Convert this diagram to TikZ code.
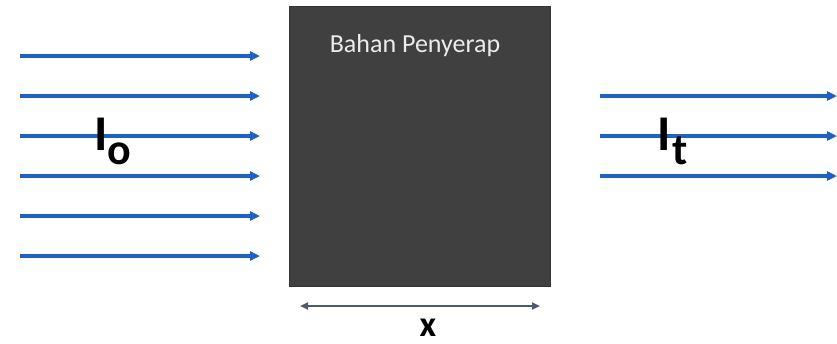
\documentclass[tikz,border=0pt]{standalone}
\usepackage{fontspec}
\setmainfont{Carlito}
\usetikzlibrary{arrows.meta}
\definecolor{beam}{HTML}{1F63C0}
\definecolor{slab}{HTML}{404040}
\definecolor{dim}{HTML}{4D5B6B}
\begin{document}
\begin{tikzpicture}[x=1pt,y=-1pt,
  ray/.style={beam,line width=3.2pt,-{Triangle[length=10pt,width=9pt]}},
  lbl/.style={inner sep=0pt,anchor=base west,font=\fontsize{50}{50}\selectfont\bfseries},
  sub/.style={inner sep=0pt,anchor=base west,font=\fontsize{44}{44}\selectfont\bfseries}]
\useasboundingbox (0,0) rectangle (837,343);
\node[draw=slab!80!black,fill=slab,minimum width=261pt,minimum height=280pt,inner sep=0pt,anchor=north west,line width=0.6pt] (box) at (289,6) {};
\node[text=white!85!gray,font=\fontsize{26}{26}\selectfont] (title) at (415,46) {Bahan Penyerap};
\foreach \i/\y in {1/56,2/96,3/136,4/176,5/216,6/256}{
  \coordinate (ls\i) at (20,\y);
  \coordinate (le\i) at (260,\y);
  \draw[ray] (ls\i) -- (le\i);
}
\foreach \i/\y in {1/96,2/136,3/176}{
  \coordinate (rs\i) at (600,\y);
  \coordinate (re\i) at (837,\y);
  \draw[ray] (rs\i) -- (re\i);
}
\node[lbl] (I0) at (94,150) {I};
\node[sub] (o) at (107,164) {o};
\node[lbl] (It) at (657,150) {I};
\node[sub] (t) at (672,164) {t};
\coordinate (xa) at (300,306);
\coordinate (xb) at (540,306);
\draw[dim,line width=2.6pt,{Triangle[length=8pt,width=7pt]}-{Triangle[length=8pt,width=7pt]}] (xa) -- (xb);
\node[inner sep=0pt,anchor=base,font=\fontsize{36}{36}\selectfont\bfseries] (xl) at (428,336) {x};
\end{tikzpicture}
\end{document}
